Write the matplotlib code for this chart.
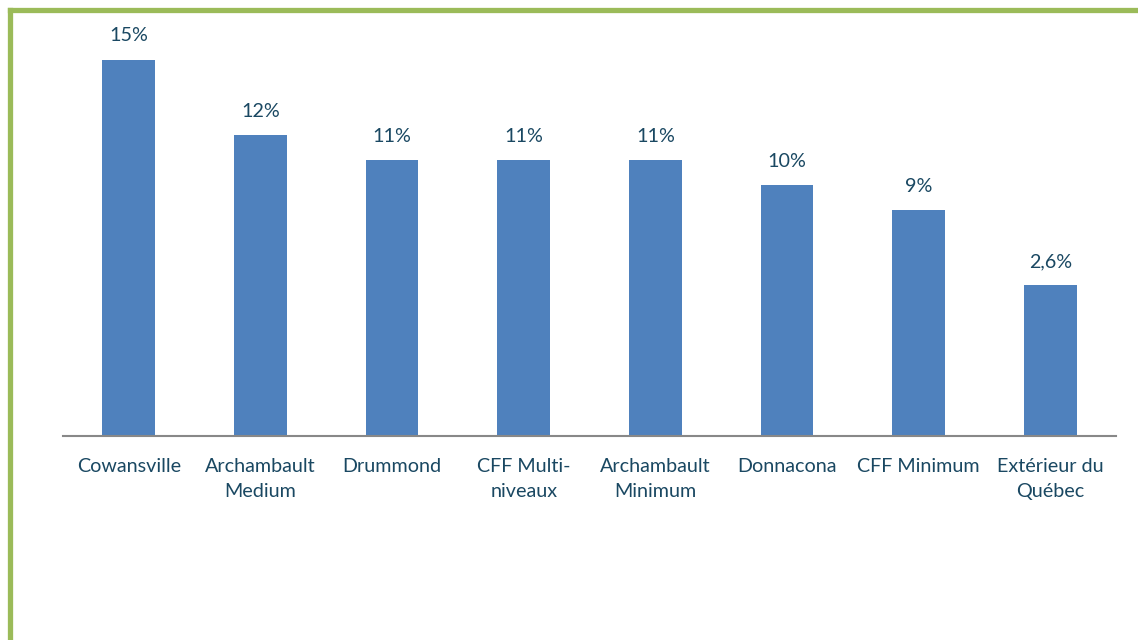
import matplotlib.pyplot as plt
from matplotlib.lines import Line2D

categories = ['Cowansville', 'Archambault\nMedium', 'Drummond', 'CFF Multi-\nniveaux',
              'Archambault\nMinimum', 'Donnacona', 'CFF Minimum', 'Extérieur du\nQuébec']
values = [15, 12, 11, 11, 11, 10, 9, 6]
value_labels = ['15%', '12%', '11%', '11%', '11%', '10%', '9%', '2,6%']

plt.rcParams['font.family'] = ['Lato', 'DejaVu Sans']
txt = '#1A4862'

fig = plt.figure(figsize=(11.38, 6.4), dpi=100)
ax = fig.add_axes([63/1138, 204/640, 1053/1138, 416/640])

x = range(len(categories))
bars = ax.bar(x, values, width=0.4, color='#4F81BD')
for b, lab in zip(bars, value_labels):
    ax.annotate(lab, (b.get_x() + b.get_width()/2, b.get_height()),
                xytext=(0, 11), textcoords='offset points',
                ha='center', va='bottom', fontsize=14.2, color=txt)

ax.set_xlim(-0.5, len(categories) - 0.5)
ax.set_ylim(0, 416/25.1)
ax.set_xticks(list(x))
ax.set_xticklabels(categories, fontsize=14.2, color=txt, linespacing=1.55)
ax.tick_params(axis='x', length=0, pad=16)
ax.set_yticks([])
for s in ['top', 'right', 'left']:
    ax.spines[s].set_visible(False)
ax.spines['bottom'].set_color('#888888')
ax.spines['bottom'].set_linewidth(1.5)

# green frame on left and top
fig.add_artist(Line2D([10/1138, 10/1138], [0, 1 - 10/640], color='#9BBB59', lw=3.8,
                      transform=fig.transFigure, solid_capstyle='projecting'))
fig.add_artist(Line2D([10/1138, 1], [1 - 10/640, 1 - 10/640], color='#9BBB59', lw=3.8,
                      transform=fig.transFigure, solid_capstyle='projecting'))

fig.savefig('out.png', dpi=100)
